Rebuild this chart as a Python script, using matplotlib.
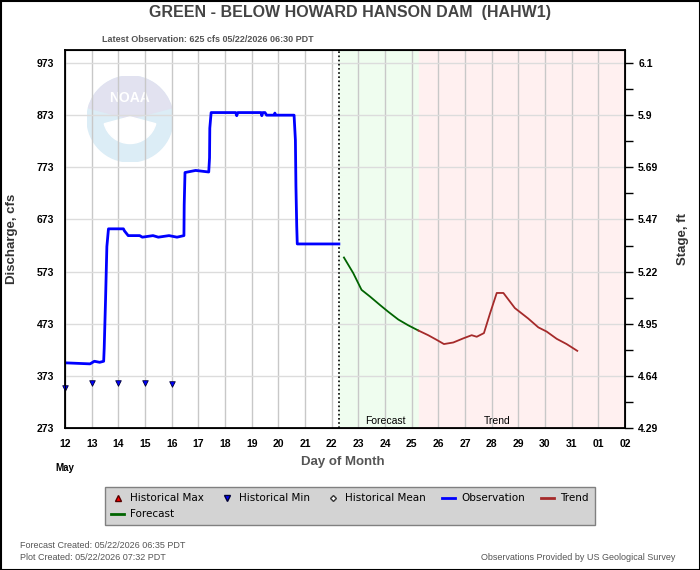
import numpy as np
import matplotlib
matplotlib.use("Agg")
import matplotlib.pyplot as plt
from matplotlib.lines import Line2D
from matplotlib.patches import Circle, Wedge, Rectangle

plt.rcParams['font.family'] = ['Liberation Sans', 'DejaVu Sans']

# time is in days after May 12 00:00 PDT
obs_t = [0.0, 0.94, 1.1, 1.3, 1.45, 1.47, 1.52, 1.57, 1.63, 2.19, 2.23, 2.37, 2.8, 2.9, 3.3, 3.5, 3.9, 4.2, 4.46,
         4.47, 4.5, 4.9, 5.39, 5.42, 5.43, 5.48, 6.4, 6.44, 6.48, 7.35, 7.38, 7.42, 7.5, 7.56, 7.85, 7.87, 7.9,
         8.59, 8.64, 8.66, 8.69, 8.71, 10.27]
obs_q = [398, 396, 401, 399, 401, 426, 518, 621, 655, 655, 651, 642, 642, 639, 642, 639, 642, 639, 642,
         701, 763, 767, 764, 791, 848, 878, 878, 872, 878, 878, 872, 878, 878, 873, 873, 877, 873,
         873, 825, 737, 660, 626, 626]

fcst_t = [10.46, 10.81, 11.12, 11.44, 11.81, 12.12, 12.5, 12.87, 13.25]
fcst_q = [600, 570, 538, 525, 509, 496, 481, 470, 460]

trend_t = [13.25, 13.62, 13.94, 14.21, 14.56, 14.94, 15.25, 15.44, 15.71, 15.94, 16.19, 16.44, 16.87,
           17.37, 17.75, 18.06, 18.44, 18.81, 19.21]
trend_q = [460, 451, 442, 434, 437, 445, 451, 448, 455, 493, 532, 532, 503, 483, 466, 458, 444, 434, 421]

hmin_t = [0, 1, 2, 3, 4]
hmin_q = [350, 360, 360, 360, 357]

obs_time = 10.27
fcst_end = 13.28

day_labels = ["12", "13", "14", "15", "16", "17", "18", "19", "20", "21", "22", "23", "24", "25",
              "26", "27", "28", "29", "30", "31", "01", "02"]
flow_ticks = [273, 373, 473, 573, 673, 773, 873, 973]
stage_labels = ["4.29", "4.64", "4.95", "5.22", "5.47", "5.69", "5.9", "6.1"]

fig = plt.figure(figsize=(7, 5.7), dpi=100)
fig.patch.set_facecolor("white")
fig.add_artist(Rectangle((0.5 / 700, 0.5 / 570), 699 / 700, 569 / 570, transform=fig.transFigure,
                         fill=False, edgecolor="black", linewidth=1.5))

ax = fig.add_axes([65 / 700, 1 - 428 / 570, 560 / 700, 378 / 570])
ax.set_xlim(0, 21)
ax.set_ylim(273, 998)

# shaded forecast / trend windows
ax.axvspan(obs_time, fcst_end, color="#effdef", zorder=0)
ax.axvspan(fcst_end, 21, color="#fff0f0", zorder=0)
ax.axvline(obs_time, color="black", linestyle=(0, (1, 1.5)), linewidth=1.2, zorder=3)

# faint NOAA watermark
logo = fig.add_axes([87 / 700, 1 - 162 / 570, 86 / 700, 86 / 570])
logo.set_xlim(-1, 1)
logo.set_ylim(-1, 1)
logo.axis("off")
logo.add_patch(Circle((0, 0), 1, color="#dcedf6", zorder=0))
logo.add_patch(Wedge((0, 0), 1, 15, 165, color="#e2e2f0", zorder=1))
logo.add_patch(Wedge((0, 0.05), 0.62, 195, 345, color="white", zorder=2))
logo.text(0, 0.48, "NOAA", color="white", fontsize=10, fontweight="bold", ha="center", va="center",
          zorder=3)
logo.set_zorder(0)
ax.set_zorder(1)
ax.patch.set_alpha(0)

ax.grid(axis="x", color="#c8c8c8", linewidth=1)
ax.grid(axis="y", color="#dcdcdc", linewidth=1)
ax.set_axisbelow(True)

ax.plot(obs_t, obs_q, color="#0000ff", linewidth=2, zorder=4)
ax.plot(fcst_t, fcst_q, color="#006400", linewidth=1.3, zorder=4)
ax.plot(trend_t, trend_q, color="#a52a2a", linewidth=1.3, zorder=4)
ax.scatter(hmin_t, hmin_q, marker="v", s=16, color="#0000ff", edgecolors="#000033", linewidths=0.6,
           zorder=5, clip_on=False)

ax.set_xticks(range(22))
ax.set_xticklabels(day_labels)
ax.set_yticks(flow_ticks)
ax.tick_params(axis="both", length=0, labelsize=7.5, pad=8)
for lab in ax.get_xticklabels() + ax.get_yticklabels():
    lab.set_fontweight("bold")
for sp in ax.spines.values():
    sp.set_linewidth(1.3)

ax.text((obs_time + fcst_end) / 2 + 0.25, 276, "Forecast", fontsize=7.5, ha="center", va="bottom")
ax.text(16.2, 276, "Trend", fontsize=7.5, ha="center", va="bottom")

ax2 = ax.twinx()
ax2.set_ylim(ax.get_ylim())
ax2.set_yticks(flow_ticks)
ax2.set_yticklabels(stage_labels)
ax2.set_yticks(np.arange(323, 998, 100), minor=True)
ax2.tick_params(axis="y", which="both", length=6, width=1, labelsize=7.5)
for lab in ax2.get_yticklabels():
    lab.set_fontweight("bold")

fig.text(0.5, 1 - 13 / 570, "GREEN - BELOW HOWARD HANSON DAM  (HAHW1)", ha="center", va="center",
         fontsize=11.5, fontweight="bold", color="#444444")
fig.text(208 / 700, 1 - 40 / 570, "Latest Observation: 625 cfs 05/22/2026 06:30 PDT", ha="center",
         va="center", fontsize=6.5, fontweight="bold", color="#555555")
fig.text(12 / 700, 1 - 239 / 570, "Discharge, cfs", rotation=90, ha="center", va="center", fontsize=9.5,
         fontweight="bold", color="#333333")
fig.text(683 / 700, 1 - 239 / 570, "Stage, ft", rotation=90, ha="center", va="center", fontsize=9.5,
         fontweight="bold", color="#333333")
fig.text(343 / 700, 1 - 462 / 570, "Day of Month", ha="center", va="center", fontsize=9.5,
         fontweight="bold", color="#555555")
fig.text(65 / 700, 1 - 468 / 570, "May", ha="center", va="center", fontsize=7, fontweight="bold")

# legend
handles = [
    Line2D([], [], marker="^", linestyle="none", color="#ff0000", markeredgecolor="#550000", markersize=5),
    Line2D([], [], color="#006400", linewidth=2),
    Line2D([], [], marker="v", linestyle="none", color="#0000ff", markeredgecolor="#000033", markersize=5),
    Line2D([], [], marker="D", linestyle="none", color="white", markeredgecolor="#333333", markersize=3),
    Line2D([], [], color="#0000ff", linewidth=2),
    Line2D([], [], color="#a52a2a", linewidth=2),
]
names = ["Historical Max", "Forecast", "Historical Min", "Historical Mean", "Observation", "Trend"]
leg = fig.legend(handles, names, loc="upper left", ncol=5, mode="expand",
                 bbox_to_anchor=(100 / 700, 1 - 522 / 570, 500 / 700, 40 / 570),
                 prop={"family": "DejaVu Sans", "size": 7.5}, frameon=True, fancybox=False,
                 facecolor="#d3d3d3", edgecolor="#808080", framealpha=1, handlelength=1.2,
                 handletextpad=0.6, borderpad=0.6, labelspacing=0.55, columnspacing=0.5)
leg.get_frame().set_linewidth(1)

foot = ['Liberation Sans Narrow', 'Liberation Sans']
fig.text(20 / 700, 1 - 545 / 570, "Forecast Created: 05/22/2026 06:35 PDT", ha="left", va="center",
         fontsize=6.5, color="#555555", family=foot)
fig.text(20 / 700, 1 - 558 / 570, "Plot Created: 05/22/2026 07:32 PDT", ha="left", va="center",
         fontsize=6.5, color="#555555", family=foot)
fig.text(675 / 700, 1 - 558 / 570, "Observations Provided by US Geological Survey", ha="right",
         va="center", fontsize=6.5, color="#555555", family=foot)

fig.savefig("out.png", dpi=100)
